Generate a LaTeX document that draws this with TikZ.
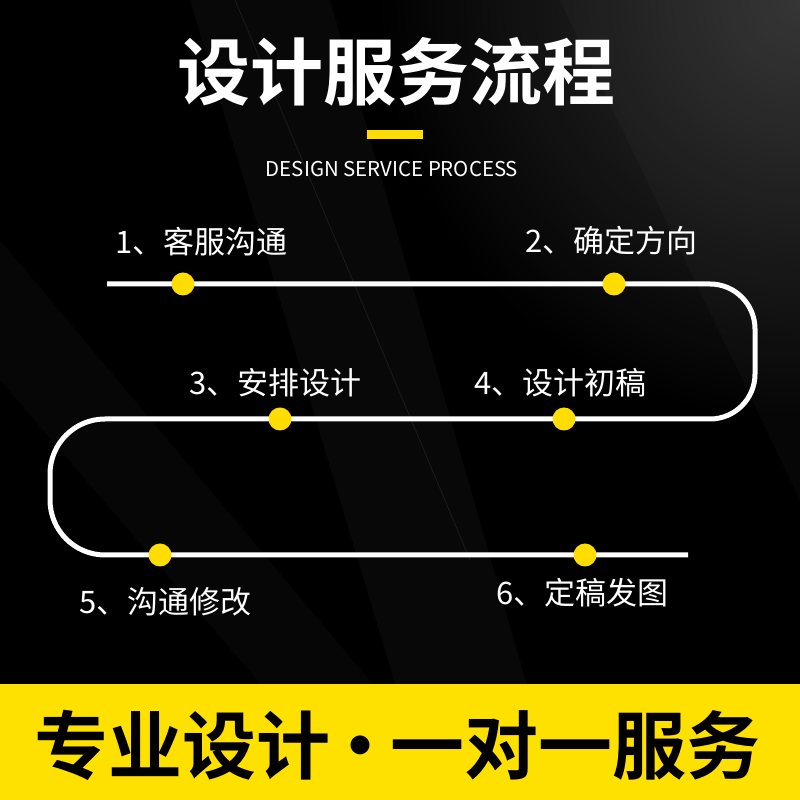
\documentclass[tikz,border=0pt]{standalone}
\usepackage{fontspec}
\newfontfamily\cjk{Noto Sans CJK SC}
\newfontfamily\cjkbold{Noto Sans CJK SC Bold}
\definecolor{bannery}{HTML}{FFE100}
\definecolor{doty}{HTML}{FFDD00}
\begin{document}
\begin{tikzpicture}[x=1pt,y=1pt,
  lbl/.style={anchor=west,inner sep=0pt,text=white,font=\cjk\fontsize{31}{31}\selectfont},
  dotnode/.style={circle,fill=doty,minimum size=23pt,inner sep=0pt},
  track/.style={draw=white,line width=5pt}]
\useasboundingbox (0,0) rectangle (800,800);
% background
\fill[black] (0,0) rectangle (800,800);
\shade[inner color=black!78!white,outer color=black,opacity=0.9] (800,800) circle (430);
\fill[white,opacity=0.03] (190,800) -- (330,800) -- (560,0) -- (430,0) -- cycle;
\fill[white,opacity=0.025] (0,560) -- (0,420) -- (360,0) -- (470,0) -- cycle;
\fill[white,opacity=0.025] (560,800) -- (800,800) -- (800,300) -- cycle;
\draw[white,opacity=0.07,line width=1pt] (235,800) -- (470,240);
% title
\node[inner sep=0pt,text=white,font=\cjkbold\fontsize{73}{73}\selectfont] (title) at (396,728) {设计服务流程};
\fill[doty] (367,661) rectangle (423,670);
\node[inner sep=0pt,text=white,font=\cjk\fontsize{20.4}{20.4}\selectfont] (sub) at (392,631) {DESIGN SERVICE PROCESS};
% track
\coordinate (ts) at (107,516);
\coordinate (te) at (688,245);
\draw[track] (ts) -- (710,516) arc(90:0:45) -- (755,426) arc(0:-90:45)
  -- (105,381) arc(90:180:55) -- (50,300) arc(180:270:55) -- (te);
% dots
\node[dotnode] (d1) at (183,516) {};
\node[dotnode] (d2) at (614,516) {};
\node[dotnode] (d3) at (280,381) {};
\node[dotnode] (d4) at (564,381) {};
\node[dotnode] (d5) at (160,245) {};
\node[dotnode] (d6) at (585,245) {};
% labels
\node[lbl] (l1) at (115,558) {1、客服沟通};
\node[lbl] (l2) at (525,559) {2、确定方向};
\node[lbl] (l3) at (189,417) {3、安排设计};
\node[lbl] (l4) at (474,417) {4、设计初稿};
\node[lbl] (l5) at (79,198) {5、沟通修改};
\node[lbl] (l6) at (496,207) {6、定稿发图};
% banner
\fill[bannery] (0,0) rectangle (800,116);
\node[inner sep=0pt,text=black,font=\cjkbold\fontsize{74}{74}\selectfont] (slogan) at (397,55) {专业设计\hspace{-7pt}·\hspace{-7pt}一对一服务};
\end{tikzpicture}
\end{document}
